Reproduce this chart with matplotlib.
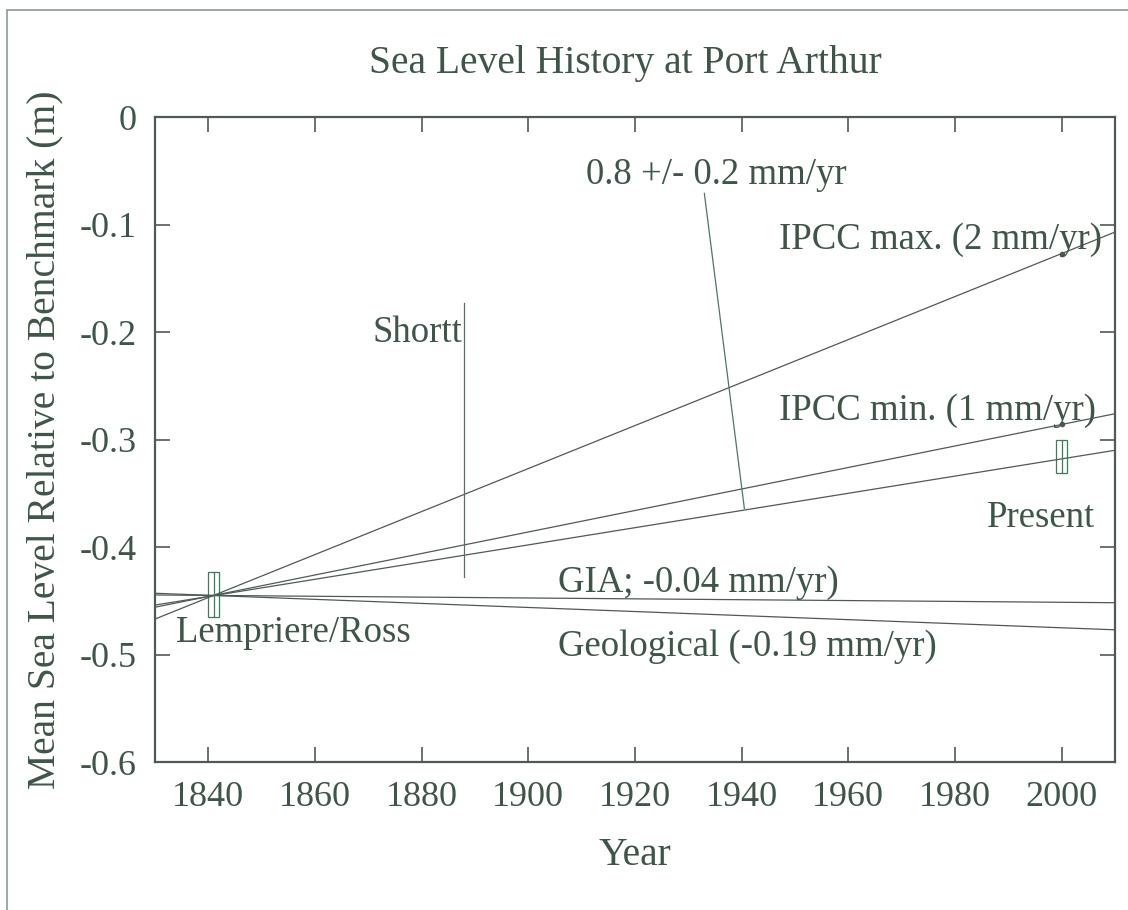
import matplotlib
matplotlib.use("Agg")
import matplotlib.pyplot as plt
from matplotlib.patches import Rectangle
from matplotlib.lines import Line2D

plt.rcParams["font.family"] = ["Liberation Serif", "DejaVu Serif"]

# line end points (years at the axis edges)
line_years = [1830, 2010]
ipcc_max = [-0.467, -0.107]
ipcc_min = [-0.456, -0.276]
obs_rate = [-0.454, -0.310]
gia = [-0.4446, -0.4518]
geological = [-0.443, -0.477]

# measurement boxes: (year, low, high)
lempriere = (1841, -0.465, -0.423)
present = (2000, -0.331, -0.300)

# Shortt range
shortt_year = 1888
shortt_range = [-0.173, -0.428]

# small dots at 2000 on IPCC lines
dot_years = [2000, 2000]
dot_levels = [-0.127, -0.286]

xticks = [1840, 1860, 1880, 1900, 1920, 1940, 1960, 1980, 2000]
yticks = [0, -0.1, -0.2, -0.3, -0.4, -0.5, -0.6]
yticklabels = ["0", "-0.1", "-0.2", "-0.3", "-0.4", "-0.5", "-0.6"]

text_col = "#3e5648"
line_col = "#505a55"
box_col = "#3f7a5e"

fig = plt.figure(figsize=(11.28, 9.1), dpi=100)
ax = fig.add_axes([0.1374, 0.1626, 0.8511, 0.7088])

for vals in [ipcc_max, ipcc_min, obs_rate, gia, geological]:
    ax.plot(line_years, vals, color=line_col, lw=0.9)

ax.plot(dot_years, dot_levels, "o", color=line_col, ms=3)

ax.plot([shortt_year, shortt_year], shortt_range, color="#5a6e66", lw=0.9)

for yr, lo, hi in [lempriere, present]:
    ax.add_patch(Rectangle((yr - 1, lo), 2, hi - lo, fill=False,
                           edgecolor=box_col, lw=0.9))
    ax.plot([yr, yr], [lo, hi], color=box_col, lw=0.9)

# leader from rate label to the 0.8 mm/yr line
ax.plot([1933, 1940.5], [-0.071, -0.364], color="#4f7566", lw=0.9)

fs = 26.5
labels = [
    (1910.8, -0.054, "0.8 +/- 0.2 mm/yr"),
    (1947.0, -0.114, "IPCC max. (2 mm/yr)"),
    (1870.7, -0.201, "Shortt"),
    (1947.0, -0.273, "IPCC min. (1 mm/yr)"),
    (1985.9, -0.373, "Present"),
    (1905.5, -0.433, "GIA; -0.04 mm/yr)"),
    (1834.0, -0.480, "Lempriere/Ross"),
    (1905.5, -0.493, "Geological (-0.19 mm/yr)"),
]
for x, y, s in labels:
    ax.text(x, y, s, ha="left", va="center", fontsize=fs, color=text_col)

ax.set_xlim(1830, 2010)
ax.set_ylim(-0.6, 0)
ax.set_xticks(xticks)
ax.set_yticks(yticks)
ax.set_yticklabels(yticklabels)
ax.tick_params(direction="in", length=11, width=1.2, top=True, right=True,
               labelsize=26, colors=line_col, labelcolor=text_col)
ax.tick_params(axis="x", pad=14)
ax.tick_params(axis="y", pad=13)
for sp in ax.spines.values():
    sp.set_linewidth(1.6)
    sp.set_color(line_col)

ax.set_xlabel("Year", fontsize=28.5, color=text_col, labelpad=16)
ax.set_ylabel("Mean Sea Level Relative to Benchmark (m)", fontsize=28.5,
              color=text_col, labelpad=12)
fig.text(0.554, 0.930, "Sea Level History at Port Arthur", ha="center",
         va="center", fontsize=28.5, color=text_col)

# outer frame (top and left edges only)
fig.add_artist(Line2D([0.007, 1.0], [0.989, 0.989], color="#8c9a8e", lw=1.2))
fig.add_artist(Line2D([0.006, 0.006], [0.0, 0.989], color="#8c9a8e", lw=1.2))

fig.savefig("out.png", dpi=100)
